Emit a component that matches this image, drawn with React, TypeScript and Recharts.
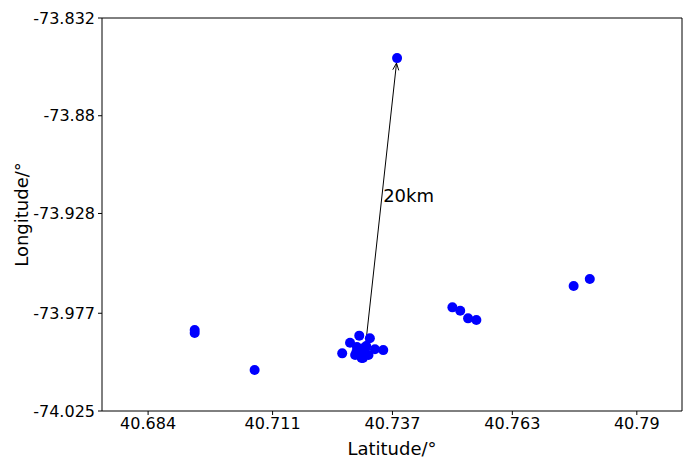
import { ScatterChart, Scatter, XAxis, YAxis, ReferenceLine } from "recharts";

// point coordinates
const latitudes = [
  40.738, 40.6941, 40.6941, 40.7071,
  40.7298, 40.7321, 40.7278, 40.7261, 40.7292, 40.7307, 40.7332, 40.735,
  40.7303, 40.7318, 40.7289, 40.7311, 40.7293, 40.7313, 40.7302, 40.7306,
  40.75, 40.7517, 40.7534, 40.7552, 40.7763, 40.7798,
];
const longitudes = [
  -73.8517, -73.9852, -73.9867, -74.0049,
  -73.988, -73.9893, -73.9915, -73.9967, -73.9959, -73.9942, -73.9947, -73.9951,
  -73.999, -73.9975, -73.9975, -73.9941, -73.9936, -73.9931, -73.9965, -73.999,
  -73.9741, -73.9758, -73.9795, -73.9803, -73.9636, -73.9602,
];

const xTicks = [40.684, 40.711, 40.737, 40.763, 40.79];
const yTicks = [-74.025, -73.977, -73.928, -73.88, -73.832];
const xDomain = [40.674, 40.7998];
const yDomain = [-74.025, -73.832];

const arrowFrom = { x: 40.7311, y: -73.9941 };
const arrowTo = { x: 40.738, y: -73.8517 };
const arrowText = "20km";

const points = latitudes.map((x, i) => ({ x, y: longitudes[i] }));

const Dot = (props: any) => <circle cx={props.cx} cy={props.cy} r={5} fill="#0000ff" />;

const Arrow = (props: any) => {
  const { x1, y1, x2, y2 } = props;
  const dx = x2 - x1;
  const dy = y2 - y1;
  const len = Math.sqrt(dx * dx + dy * dy);
  const ux = dx / len;
  const uy = dy / len;
  // stop just short of the target dot
  const tx = x2 - ux * 5;
  const ty = y2 - uy * 5;
  const hl = 7;
  const hw = 3;
  const bx = tx - ux * hl;
  const by = ty - uy * hl;
  const mx = (x1 + x2) / 2;
  const my = (y1 + y2) / 2;
  return (
    <g>
      <line x1={x1} y1={y1} x2={tx} y2={ty} stroke="#000" strokeWidth={1} />
      <polyline
        points={`${bx - uy * hw},${by + ux * hw} ${tx},${ty} ${bx + uy * hw},${by - ux * hw}`}
        fill="none"
        stroke="#000"
        strokeWidth={1}
      />
      <text x={mx + 2} y={my - 1} fontSize={18} fill="#000">
        {arrowText}
      </text>
    </g>
  );
};

const YLabel = (props: any) => {
  const vb = props.viewBox || { x: 0, y: 18, width: 102, height: 393 };
  const cx = vb.x + 21;
  const cy = vb.y + vb.height / 2;
  return (
    <text
      x={cx}
      y={cy}
      transform={`rotate(-90 ${cx} ${cy})`}
      textAnchor="middle"
      dominantBaseline="central"
      fontSize={18}
      fill="#000"
    >
      Longitude/°
    </text>
  );
};

export default function App() {
  return (
    <div style={{ position: "absolute", left: 0, top: 0, fontFamily: "DejaVu Sans" }}>
      <ScatterChart width={683} height={458} margin={{ top: 18, right: 1, bottom: 0, left: 0 }}>
        <XAxis
          type="number"
          dataKey="x"
          domain={xDomain}
          ticks={xTicks}
          allowDataOverflow
          height={47}
          stroke="#000"
          tickSize={4}
          tickMargin={3}
          tick={{ fill: "#000", fontSize: 16 }}
          label={{ value: "Latitude/°", position: "insideBottom", offset: 3, fill: "#000", fontSize: 18 }}
        />
        <YAxis
          type="number"
          dataKey="y"
          domain={yDomain}
          ticks={yTicks}
          allowDataOverflow
          width={102}
          stroke="#000"
          tickSize={4}
          tickMargin={3}
          tick={{ fill: "#000", fontSize: 16 }}
          label={<YLabel />}
        />
        {/* top and right sides of the frame */}
        <ReferenceLine y={yDomain[1]} stroke="#000" strokeWidth={1} ifOverflow="visible" />
        <ReferenceLine x={xDomain[1]} stroke="#000" strokeWidth={1} ifOverflow="visible" />
        <Scatter data={points} shape={Dot} isAnimationActive={false} />
        <ReferenceLine segment={[arrowFrom, arrowTo]} shape={Arrow} />
      </ScatterChart>
    </div>
  );
}
